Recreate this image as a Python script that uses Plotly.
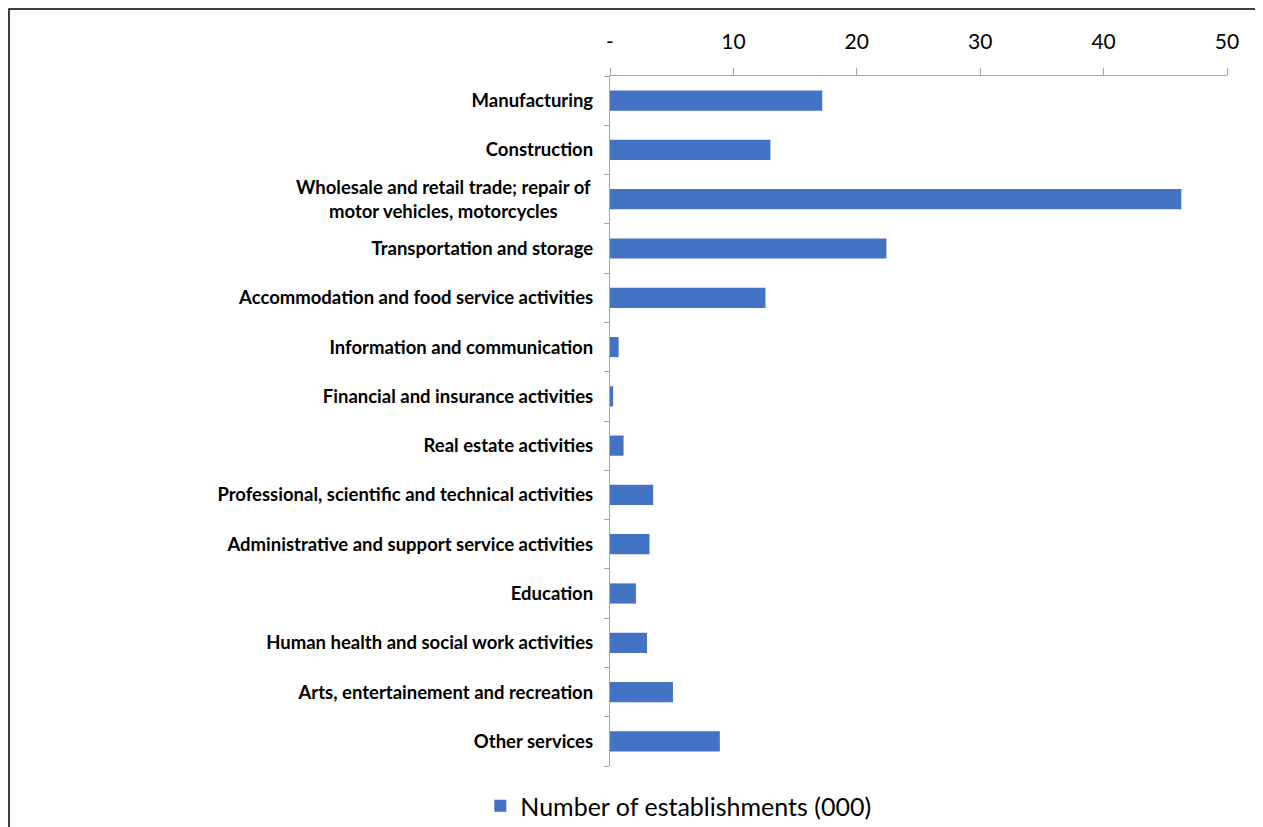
import plotly.graph_objects as go

categories = [
    "Manufacturing",
    "Construction",
    "Wholesale and retail trade; repair of<br>motor vehicles, motorcycles",
    "Transportation and storage",
    "Accommodation and food service activities",
    "Information and communication",
    "Financial and insurance activities",
    "Real estate activities",
    "Professional, scientific and technical activities",
    "Administrative and support service activities",
    "Education",
    "Human health and social work activities",
    "Arts, entertainement and recreation",
    "Other services",
]
values = [17.2, 13.0, 46.3, 22.4, 12.6, 0.7, 0.25, 1.1, 3.5, 3.2, 2.1, 3.0, 5.1, 8.9]
x_tickvals = [0, 10, 20, 30, 40, 50]
x_ticktext = ["-", "10", "20", "30", "40", "50"]
series_name = "Number of establishments (000)"

BLUE = "#4472C4"
AXIS = "#A6A6A6"
FONT = "Lato, Noto Sans, sans-serif"

# Wholesale label is centered over two lines -> drawn as annotation
wrap_idx = 2
tick_text = [("" if i == wrap_idx else c) for i, c in enumerate(categories)]

W, H = 1255, 819
L, R, T, B = 602, 36, 68, 61
PW, PH = W - L - R, H - T - B

fig = go.Figure()
fig.add_trace(go.Bar(
    x=values, y=categories, orientation="h",
    marker=dict(color=BLUE, line=dict(width=0)),
    name=series_name, showlegend=True,
))

fig.update_layout(
    width=W, height=H,
    margin=dict(l=L, r=R, t=T, b=B, autoexpand=False),
    paper_bgcolor="white", plot_bgcolor="white",
    bargap=0.59,
    font=dict(family=FONT, color="#000000"),
    xaxis=dict(
        side="top", range=[0, 50], tickvals=x_tickvals, ticktext=x_ticktext,
        showgrid=False, zeroline=False, showline=True, linecolor=AXIS, linewidth=1.3,
        ticks="outside", ticklen=7, tickcolor=AXIS, tickwidth=1.3,
        tickfont=dict(size=21, family=FONT, color="#000"),
        ticklabelstandoff=10,
        fixedrange=True,
    ),
    yaxis=dict(
        categoryorder="array", categoryarray=categories, autorange="reversed",
        tickmode="array", tickvals=categories, ticktext=tick_text,
        tickson="boundaries",
        showgrid=False, zeroline=False, showline=True, linecolor=AXIS, linewidth=1.3,
        ticks="outside", ticklen=5, tickcolor=AXIS, tickwidth=1.3,
        tickfont=dict(size=18.5, family=FONT, color="#000", weight="bold"),
        ticklabelstandoff=12,
    ),
    legend=dict(
        orientation="h", x=0.1107, xanchor="center", y=-40 / PH, yanchor="middle",
        font=dict(size=25, family=FONT, color="#000"),
        bgcolor="rgba(0,0,0,0)",
    ),
    shapes=[dict(
        type="rect", xref="paper", yref="paper",
        x0=(1 - L) / PW, x1=(W + 20 - L) / PW, y0=-(B + 20) / PH, y1=1 + (T - 1) / PH,
        line=dict(color="black", width=1.5), fillcolor="rgba(0,0,0,0)", layer="below",
    )],
)

fig.add_annotation(
    x=0, xref="paper", xanchor="right", xshift=-17,
    y=categories[wrap_idx], yref="y", yanchor="middle",
    text="<b>" + categories[wrap_idx] + "</b>", showarrow=False, align="center",
    font=dict(size=18.5, family=FONT, color="#000"),
)

fig.write_html("out.html")
